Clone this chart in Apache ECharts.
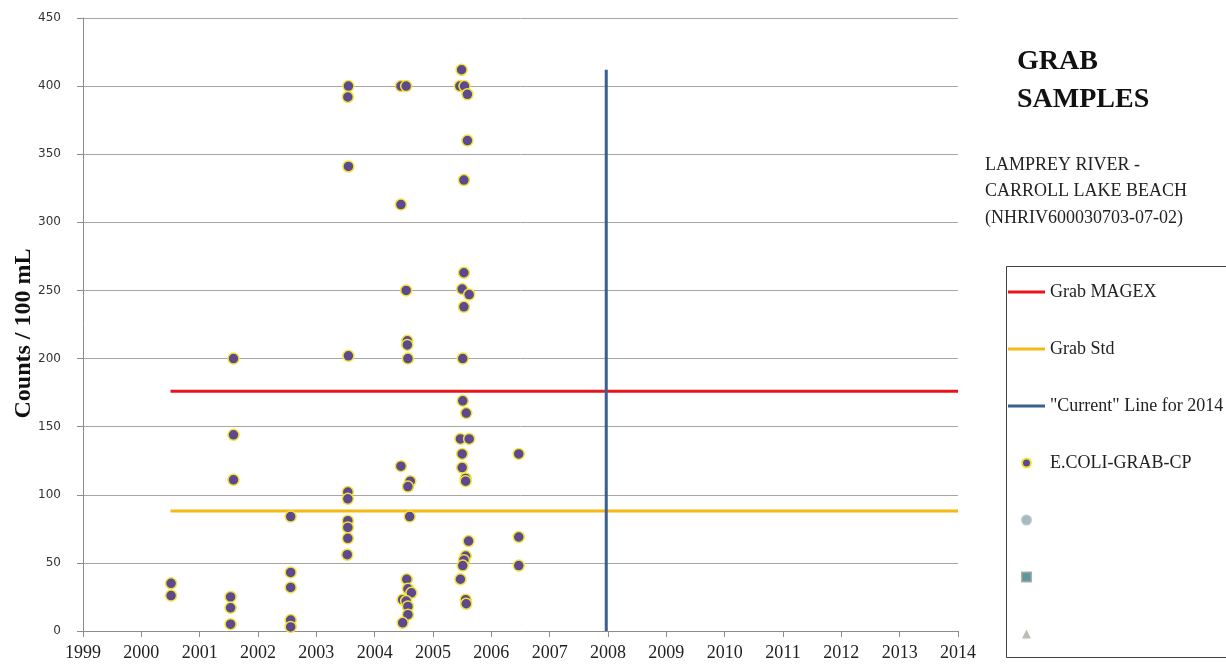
<!DOCTYPE html>
<html>
<head>
<meta charset="utf-8">
<script src="https://cdn.jsdelivr.net/npm/echarts@6/dist/echarts.min.js"></script>
<style>
  html, body { margin: 0; padding: 0; background: #ffffff; }
  #chart { width: 1226px; height: 666px; }
</style>
</head>
<body>
<div id="chart"></div>
<script>
// ---- Data ----
var xTicks = [1999, 2014, 1];          // min, max, step (years)
var yTicks = [0, 450, 50];             // min, max, step (counts)

// E.COLI grab samples: [decimal year, counts / 100 mL]
var samples2000 = [[2000.51, 35], [2000.51, 26]];
var samples2001 = [[2001.58, 200], [2001.58, 144], [2001.58, 111], [2001.53, 25], [2001.53, 17], [2001.53, 5]];
var samples2002 = [[2002.56, 84], [2002.56, 43], [2002.56, 32], [2002.56, 8], [2002.56, 3]];
var samples2003 = [[2003.55, 400], [2003.54, 392], [2003.55, 341], [2003.55, 202], [2003.54, 102], [2003.54, 97],
                   [2003.54, 81], [2003.54, 76], [2003.54, 68], [2003.53, 56]];
var samples2004 = [[2004.45, 400], [2004.54, 400], [2004.45, 313], [2004.54, 250], [2004.56, 213], [2004.56, 210],
                   [2004.57, 200], [2004.45, 121], [2004.61, 110], [2004.57, 106], [2004.6, 84], [2004.55, 38],
                   [2004.57, 31], [2004.63, 28], [2004.48, 23], [2004.54, 22], [2004.57, 18], [2004.57, 12], [2004.48, 6]];
var samples2005 = [[2005.49, 412], [2005.46, 400], [2005.54, 400], [2005.59, 394], [2005.59, 360], [2005.53, 331],
                   [2005.53, 263], [2005.5, 251], [2005.62, 247], [2005.53, 238], [2005.51, 200], [2005.51, 169],
                   [2005.57, 160], [2005.47, 141], [2005.62, 141], [2005.5, 130], [2005.5, 120], [2005.56, 112],
                   [2005.56, 110], [2005.61, 66], [2005.56, 55], [2005.53, 52], [2005.51, 48], [2005.47, 38],
                   [2005.56, 23], [2005.57, 20]];
var samples2006 = [[2006.47, 130], [2006.47, 69], [2006.47, 48]];

var magexLine = [[2000.5, 176], [2014, 176]];
var stdLine = [[2000.5, 88], [2014, 88]];
var currentLine = [[2007.97, 0], [2007.97, 412]];

var seriesNames = ['Grab MAGEX', 'Grab Std', '"Current" Line for 2014', 'E.COLI-GRAB-CP', ' ', '  ', '   '];

var allSamples = [].concat(samples2000, samples2001, samples2002, samples2003, samples2004, samples2005, samples2006);

var serif = 'Liberation Serif';
var lineIcon = 'path://M0,0L37,0L37,3L0,3Z';
var squareIcon = 'path://M0,0L10,0L10,10L0,10Z';
var triIcon = 'path://M5,0L10,10L0,10Z';

var chart = echarts.init(document.getElementById('chart'), null, { renderer: 'canvas' });

chart.setOption({
  animation: false,
  backgroundColor: '#ffffff',
  title: [
    {
      text: 'GRAB\nSAMPLES', left: 1017, top: 43, padding: 0,
      textStyle: { fontFamily: serif, fontWeight: 'bold', fontSize: 28, lineHeight: 38, color: '#111111' }
    },
    {
      text: 'LAMPREY RIVER -\nCARROLL LAKE BEACH\n(NHRIV600030703-07-02)', left: 985, top: 152, padding: 0,
      textStyle: { fontFamily: serif, fontWeight: 'normal', fontSize: 18, lineHeight: 26.5, color: '#222222' }
    }
  ],
  graphic: [
    { type: 'rect', left: 1004, top: 264, shape: { width: 240, height: 391 },
      style: { fill: 'none', stroke: '#404040', lineWidth: 1 }, z: 0 }
  ],
  legend: {
    orient: 'vertical', left: 1008, top: 283, padding: 0,
    itemWidth: 37, itemHeight: 9, itemGap: 39, symbolKeepAspect: true,
    data: [
      { name: seriesNames[0], icon: lineIcon },
      { name: seriesNames[1], icon: lineIcon },
      { name: seriesNames[2], icon: lineIcon },
      { name: seriesNames[3], icon: 'circle' },
      { name: seriesNames[4], icon: 'circle' },
      { name: seriesNames[5], icon: squareIcon },
      { name: seriesNames[6], icon: triIcon }
    ],
    textStyle: { fontFamily: serif, fontSize: 18, lineHeight: 18, color: '#222222' }
  },
  grid: { left: 83, right: 268, top: 18, bottom: 35, containLabel: false, outerBoundsMode: 'none' },
  xAxis: {
    type: 'value', min: xTicks[0], max: xTicks[1], interval: xTicks[2],
    axisLine: { show: true, lineStyle: { color: '#8c8c8c', width: 1 } },
    axisTick: { show: true, length: 6, lineStyle: { color: '#8c8c8c' } },
    splitLine: { show: false },
    axisLabel: { fontFamily: serif, fontSize: 18, color: '#222222', margin: 13,
                 formatter: function (v) { return String(Math.round(v)); } }
  },
  yAxis: {
    type: 'value', min: yTicks[0], max: yTicks[1], interval: yTicks[2],
    name: 'Counts / 100 mL', nameLocation: 'middle', nameRotate: 90, nameGap: 47, nameMoveOverlap: false,
    nameTextStyle: { fontFamily: serif, fontWeight: 'bold', fontSize: 24, color: '#111111', padding: [0, 18, 0, 0] },
    axisLine: { show: true, lineStyle: { color: '#8c8c8c', width: 1 } },
    axisTick: { show: true, length: 6, lineStyle: { color: '#8c8c8c' } },
    splitLine: { show: true, lineStyle: { color: '#a6a6a6', width: 1 } },
    axisLabel: { fontFamily: 'DejaVu Sans', fontSize: 12, color: '#333333', margin: 22 }
  },
  series: [
    { name: seriesNames[0], type: 'line', data: magexLine, symbol: 'none', z: 2,
      lineStyle: { color: '#e8141c', width: 3 }, itemStyle: { color: '#e8141c' } },
    { name: seriesNames[1], type: 'line', data: stdLine, symbol: 'none', z: 2,
      lineStyle: { color: '#f6b911', width: 3 }, itemStyle: { color: '#f6b911' } },
    { name: seriesNames[2], type: 'line', data: currentLine, symbol: 'none', z: 2,
      lineStyle: { color: '#3b5f8e', width: 3 }, itemStyle: { color: '#3b5f8e' } },
    { name: seriesNames[3], type: 'scatter', data: allSamples, symbol: 'circle', symbolSize: 11, z: 3,
      itemStyle: { color: '#5d4a8e', borderColor: '#f2e33a', borderWidth: 1.5, opacity: 1 } },
    { name: seriesNames[4], type: 'scatter', data: [], symbol: 'circle', symbolSize: 9,
      itemStyle: { color: '#8fa9b6', borderColor: '#b0bcc4', borderWidth: 1 } },
    { name: seriesNames[5], type: 'scatter', data: [], symbol: 'rect', symbolSize: 9,
      itemStyle: { color: '#2e7f86', borderColor: '#9a9a9a', borderWidth: 1 } },
    { name: seriesNames[6], type: 'scatter', data: [], symbol: 'triangle', symbolSize: 9,
      itemStyle: { color: '#acaca4' } }
  ]
});
</script>
</body>
</html>
